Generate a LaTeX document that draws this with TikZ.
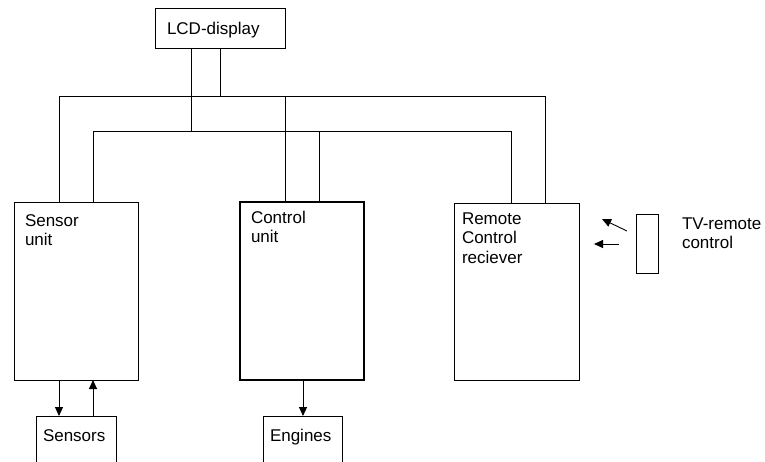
\documentclass[tikz,border=0pt]{standalone}
\usepackage{fontspec}
\setmainfont{Liberation Sans}
\usetikzlibrary{arrows.meta}
\begin{document}
\begin{tikzpicture}[x=1pt,y=-1pt,
  box/.style={draw=black, line width=0.9pt, anchor=north west, inner sep=0pt, outer sep=0pt},
  thickbox/.style={box, line width=2.8pt},
  txt/.style={anchor=base west, inner sep=0pt, outer sep=0pt, font=\fontsize{17}{19.5}\selectfont},
  wire/.style={draw=black, line width=0.9pt},
  arr/.style={wire, -{Triangle[length=9pt,width=8pt]}}]
\useasboundingbox (0,0) rectangle (765,461);
\clip (0,0) rectangle (765,461);
% boxes
\node[box, minimum width=130pt, minimum height=40pt] (lcd) at (155,8) {};
\node[box, minimum width=124pt, minimum height=178pt] (sunit) at (14,202) {};
\node[thickbox, minimum width=124pt, minimum height=178pt] (cunit) at (240,202) {};
\node[box, minimum width=125pt, minimum height=177pt] (remote) at (454,203) {};
\node[box, minimum width=22pt, minimum height=59pt] (tv) at (636,214) {};
\node[box, minimum width=80pt, minimum height=60pt] (sensors) at (36,416) {};
\node[box, minimum width=79pt, minimum height=60pt] (engines) at (263,416) {};
% texts
\node[txt] (tlcd) at (167,34) {LCD-display};
\node[txt] (ts1) at (25,226) {Sensor};
\node[txt] (ts2) at (25,245) {unit};
\node[txt] (tc1) at (251,223) {Control};
\node[txt] (tc2) at (251,242) {unit};
\node[txt] (tr1) at (462,224) {Remote};
\node[txt] (tr2) at (462,243) {Control};
\node[txt] (tr3) at (462,263) {reciever};
\node[txt] (ttv1) at (682,229) {TV-remote};
\node[txt] (ttv2) at (682,248) {control};
\node[txt] (tsen) at (43,441) {Sensors};
\node[txt] (teng) at (270,441) {Engines};
% buses
\draw[wire] ([xshift=45]sunit.north west) -- ++(0,-106) -| ([xshift=91]remote.north west);
\draw[wire] ([xshift=79]sunit.north west) -- ++(0,-71) -| ([xshift=57]remote.north west);
\draw[wire] ([xshift=65]lcd.south west) -- ++(0,48);
\draw[wire] ([xshift=36]lcd.south west) -- ++(0,83);
\draw[wire] ([xshift=45]cunit.north west) -- ++(0,-106);
\draw[wire] ([xshift=79]cunit.north west) -- ++(0,-71);
% arrows
\draw[arr] ([xshift=45]sunit.south west) -- ([xshift=23]sensors.north west);
\draw[arr] ([xshift=57]sensors.north west) -- ([xshift=79]sunit.south west);
\draw[arr] ([xshift=63]cunit.south west) -- ([xshift=40]engines.north west);
\draw[arr] ([shift={(-9,17)}]tv.north west) -- ([shift={(23,16)}]remote.north east);
\draw[arr] ([shift={(-17,30)}]tv.north west) -- ([shift={(15,41)}]remote.north east);
\end{tikzpicture}
\end{document}
